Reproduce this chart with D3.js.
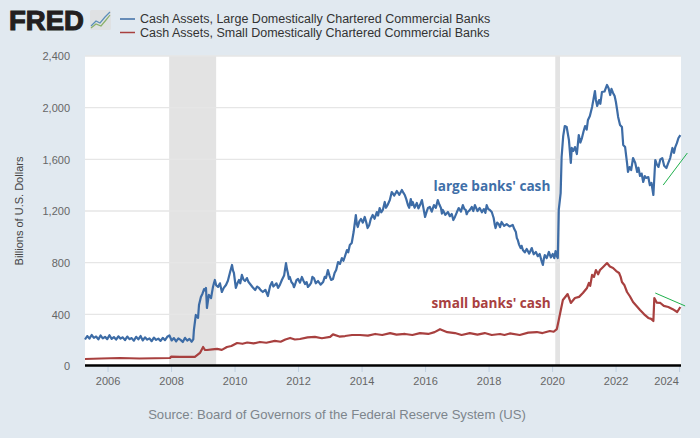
<!DOCTYPE html>
<html><head><meta charset="utf-8">
<script src="https://cdn.jsdelivr.net/npm/d3@7"></script>
<style>html,body{margin:0;padding:0;background:#e1e9f0}svg{display:block}text{font-family:"Liberation Sans",Arial,sans-serif}</style>
</head><body><div id="chart"></div>
<script>
const largeYears=[2005.29,2005.36,2005.43,2005.50,2005.57,2005.64,2005.71,2005.78,2005.85,2005.92,2005.99,2006.06,2006.13,2006.20,2006.27,2006.34,2006.41,2006.48,2006.55,2006.62,2006.69,2006.76,2006.83,2006.90,2006.97,2007.04,2007.11,2007.18,2007.25,2007.32,2007.39,2007.46,2007.53,2007.60,2007.67,2007.74,2007.81,2007.88,2007.95,2008.02,2008.09,2008.16,2008.23,2008.30,2008.37,2008.44,2008.51,2008.58,2008.65,2008.70,
2008.72,2008.78,2008.85,2008.88,2008.94,2008.99,2009.04,2009.07,2009.10,2009.13,2009.16,2009.19,2009.26,2009.29,2009.32,2009.35,2009.38,2009.42,2009.48,2009.54,2009.60,2009.66,2009.73,2009.79,2009.86,2009.92,2009.95,2009.98,2010.04,2010.09,2010.14,2010.18,2010.23,2010.28,2010.33,
2010.39,2010.44,2010.49,2010.57,2010.65,2010.71,2010.77,2010.83,2010.89,2010.97,2011.05,2011.12,2011.18,2011.22,2011.27,2011.32,2011.37,2011.43,2011.49,2011.56,2011.62,2011.65,2011.68,2011.71,2011.74,2011.79,2011.84,2011.87,2011.90,2011.95,2012.00,2012.06,2012.12,2012.17,2012.22,2012.27,2012.31,2012.36,2012.41,2012.45,2012.50,2012.56,2012.63,2012.71,2012.79,2012.84,2012.88,2012.94,2012.99,2013.04,2013.10,2013.15,2013.20,2013.26,2013.32,2013.38,2013.43,2013.47,2013.54,2013.58,2013.63,2013.69,2013.75,2013.82,2013.85,2013.88,2013.93,2013.98,2014.04,2014.10,2014.15,2014.19,2014.24,2014.29,2014.35,2014.41,2014.48,2014.52,2014.57,2014.62,2014.67,2014.73,2014.77,2014.82,2014.89,2014.95,2015.03,2015.11,2015.19,2015.27,2015.32,2015.36,2015.41,2015.46,2015.50,2015.55,2015.58,2015.61,2015.67,2015.74,2015.79,2015.84,2015.90,2015.95,2016.00,2016.05,2016.09,2016.15,2016.21,2016.28,2016.34,2016.40,2016.45,2016.50,2016.53,2016.56,2016.64,2016.72,2016.78,2016.84,2016.89,2016.94,2017.00,2017.06,2017.13,2017.19,2017.24,2017.28,2017.31,2017.34,2017.40,2017.47,2017.52,2017.57,2017.65,2017.72,2017.79,2017.85,2017.90,2017.94,2017.99,2018.04,2018.10,2018.16,2018.19,2018.22,2018.27,2018.32,2018.36,2018.41,2018.49,2018.57,2018.66,2018.76,2018.81,2018.86,2018.89,2018.92,2018.96,2019.01,2019.04,2019.08,2019.14,2019.20,2019.28,2019.36,2019.42,2019.49,2019.55,2019.61,2019.66,2019.71,2019.74,2019.77,2019.83,2019.90,2019.96,2020.02,2020.07,2020.11,2020.15,2020.18,2020.21,2020.27,2020.30,
2020.35,2020.40,2020.46,2020.53,2020.59,2020.62,2020.67,2020.72,2020.78,2020.84,2020.89,2020.94,2020.99,2021.04,2021.09,2021.13,2021.19,2021.26,2021.30,2021.35,2021.38,2021.42,2021.48,2021.52,2021.57,2021.65,2021.73,2021.78,2021.83,2021.87,2021.92,2021.97,2022.01,2022.05,2022.08,2022.14,2022.20,2022.24,2022.30,2022.36,2022.39,2022.44,2022.49,2022.55,2022.62,2022.68,2022.72,2022.77,2022.82,2022.87,2022.92,2022.96,2023.03,2023.08,2023.13,2023.19,2023.25,2023.30,2023.35,2023.41,2023.47,2023.53,2023.60,2023.66,2023.72,2023.79,2023.84,2023.88,2023.93,2023.98,2024.04];
const largeValues=[205,232,212,240,218,228,206,236,214,226,208,238,210,224,204,230,212,222,200,228,208,216,196,226,206,232,198,222,204,214,192,220,202,212,194,218,200,226,236,198,216,190,214,202,186,218,196,210,188,206,
279,395,372,472,534,560,596,585,604,449,500,550,526,570,612,640,666,625,612,640,573,605,627,660,728,782,740,720,604,640,666,640,705,670,658,
681,650,635,610,588,615,604,585,573,590,542,619,650,615,627,640,604,630,666,700,797,750,720,675,689,650,635,610,627,665,674,645,689,660,635,650,612,625,643,690,681,640,658,630,650,690,681,743,700,666,674,720,743,805,790,836,815,844,898,880,937,952,1037,1169,1100,1076,1120,1138,1110,1154,1110,1068,1090,1138,1169,1140,1192,1165,1223,1190,1208,1270,1225,1246,1285,1347,1320,1355,1325,1363,1340,1324,1290,1246,1225,1293,1245,1270,1225,1262,1220,1246,1285,1220,1154,1195,1223,1231,1195,1246,1225,1285,1250,1223,1180,1208,1170,1192,1160,1177,1130,1154,1190,1223,1195,1246,1215,1208,1175,1192,1205,1231,1200,1246,1200,1223,1190,1215,1185,1246,1215,1208,1192,1146,1100,1068,1110,1099,1075,1115,1085,1099,1080,1092,1060,1037,990,975,940,913,930,898,880,906,870,913,865,883,850,867,820,782,830,859,835,883,840,867,835,890,850,836,1208,1339,1618,
1780,1858,1850,1750,1572,1688,1665,1695,1641,1788,1730,1765,1815,1858,1830,1905,1935,2005,2060,2129,2060,2013,2059,2030,2121,2125,2176,2150,2098,2145,2114,2090,2044,1980,1928,1866,1850,1711,1695,1572,1502,1540,1517,1610,1572,1502,1535,1471,1490,1425,1470,1456,1463,1400,1417,1324,1595,1560,1541,1600,1610,1550,1533,1572,1610,1688,1650,1695,1725,1765,1788];
const smallYears=[2005.29,2005.8,2006.39,2007,2007.5,2007.97,2008.0,2008.28,2008.75,2008.91,2009.01,2009.07,2009.13,2009.3,2009.45,2009.6,2009.76,2009.9,2010.08,2010.25,2010.4,2010.6,2010.8,2011.0,2011.27,2011.45,2011.6,2011.75,2011.9,2012.06,2012.3,2012.53,2012.75,2013.01,2013.1,2013.3,2013.48,2013.7,2013.95,2014.2,2014.43,2014.65,2014.9,2015.1,2015.37,2015.6,2015.84,2016.1,2016.3,2016.47,2016.7,2016.94,2017.15,2017.41,2017.65,2017.88,2018.1,2018.36,2018.5,2018.67,2018.98,2019.25,2019.52,2019.7,2019.93,2020.05,2020.15,2020.21,2020.34,2020.49,2020.59,2020.72,2020.85,2020.97,2021.10,2021.16,2021.2,2021.26,2021.32,2021.38,2021.45,2021.51,2021.6,2021.73,2021.82,2021.92,2022.02,2022.11,2022.16,2022.20,2022.28,2022.36,2022.45,2022.55,2022.66,2022.77,2022.9,2023.03,2023.12,2023.19,2023.22,2023.3,2023.41,2023.52,2023.66,2023.8,2023.94,2024.04];
const smallValues=[54,58,62,58,60,62,72,70,70,101,147,124,124,128,132,125,147,155,178,172,182,175,186,180,194,188,205,217,205,209,222,225,215,225,245,228,232,240,240,235,248,240,255,243,248,240,255,248,262,285,262,255,240,255,243,255,240,248,240,252,240,258,263,255,271,265,286,356,511,557,488,526,535,565,604,643,620,705,690,743,710,743,765,797,770,759,735,720,690,650,625,573,540,495,465,434,400,372,365,348,526,490,488,465,457,440,418,457];
const yTicks=[0,400,800,1200,1600,2000,2400];
const xTicks=[2006,2008,2010,2012,2014,2016,2018,2020,2022,2024];
const recessions=[[2007.94,2009.42],[2020.10,2020.25]];
const trendLarge=[[2023.50,1401],[2024.26,1649]];
const trendSmall=[[2023.25,565],[2024.19,465]];
const legendLabels=["Cash Assets, Large Domestically Chartered Commercial Banks","Cash Assets, Small Domestically Chartered Commercial Banks"];

const W=700,H=438,L=85,R=681,T=56,B=366;
const blue="#3d6ca6",red="#a8403f";
const x=d3.scaleLinear().domain([2005.29,2024.06]).range([L,R]);
const y=d3.scaleLinear().domain([0,2400]).range([B,T]);
const svg=d3.select("#chart").append("svg").attr("width",W).attr("height",H);
svg.append("rect").attr("width",W).attr("height",H).attr("fill","#e1e9f0");
svg.append("rect").attr("x",L).attr("y",T).attr("width",R-L).attr("height",B-T).attr("fill","#fff");
svg.selectAll(".rec").data(recessions).join("rect").attr("x",d=>x(d[0])).attr("y",T).attr("width",d=>x(d[1])-x(d[0])).attr("height",B-T).attr("fill","#e3e3e3");
svg.selectAll(".grid").data(yTicks.slice(1)).join("line").attr("x1",L).attr("x2",R).attr("y1",d=>y(d)).attr("y2",d=>y(d)).attr("stroke","#e6e6e6").attr("stroke-width",1.3);
const yAxis=svg.append("g").attr("transform",`translate(${L},0)`).call(d3.axisLeft(y).tickValues(yTicks).tickFormat(d3.format(",")).tickSize(0).tickPadding(15));
yAxis.select(".domain").remove();
yAxis.selectAll("text").attr("fill","#666").style("font-size","11px").attr("dy","0.35em");
const xAxis=svg.append("g").attr("transform",`translate(0,${B})`).call(d3.axisBottom(x).tickValues(xTicks).tickFormat(d3.format("d")).tickSize(6).tickPadding(5));
xAxis.select(".domain").remove();
xAxis.selectAll("line").attr("stroke","#c0d0e0");
xAxis.selectAll("text").attr("fill","#666").style("font-size","11px");
xAxis.selectAll("text").filter(d=>d===2024).attr("dx",-13);
svg.append("line").attr("x1",L).attr("x2",R).attr("y1",B-0.5).attr("y2",B-0.5).attr("stroke","#000").attr("stroke-width",2.5);
const line=d3.line().x(d=>x(d[0])).y(d=>y(d[1]));
svg.append("path").datum(d3.zip(smallYears,smallValues)).attr("d",line).attr("fill","none").attr("stroke",red).attr("stroke-width",2.2).attr("stroke-linejoin","round");
svg.append("path").datum(d3.zip(largeYears,largeValues)).attr("d",line).attr("fill","none").attr("stroke",blue).attr("stroke-width",2.2).attr("stroke-linejoin","round");
[trendLarge,trendSmall].forEach(t=>svg.append("path").datum(t).attr("d",line).attr("fill","none").attr("stroke","#1fb04c").attr("stroke-width",1));
svg.append("text").attr("x",x(2014.0)+72).attr("y",y(1355)).attr("fill","#3f6fa8").attr("font-weight","bold").style("font-family","'Open Sans',sans-serif").style("font-size","13.6px").text("large banks' cash");
svg.append("text").attr("x",x(2014.0)+70).attr("y",y(452)).attr("fill","#a8403f").attr("font-weight","bold").style("font-family","'Open Sans',sans-serif").style("font-size","13.6px").text("small banks' cash");
svg.append("text").attr("transform","translate(23,211) rotate(-90)").attr("text-anchor","middle").attr("fill","#444").style("font-size","11px").text("Billions of U.S. Dollars");
svg.append("text").attr("x",337).attr("y",419).attr("text-anchor","middle").attr("fill","#7d858c").style("font-size","13.1px").text("Source: Board of Governors of the Federal Reserve System (US)");
svg.append("text").attr("x",9).attr("y",30).attr("fill","#231f20").attr("stroke","#231f20").attr("stroke-width",1.1).attr("font-weight","bold").style("font-size","27.5px").text("FRED");
const ic=svg.append("g");
ic.append("rect").attr("x",90).attr("y",10).attr("width",21).attr("height",20).attr("rx",1.5).attr("fill","#dfe1e3");
const logoLine=d3.line();
ic.append("path").attr("d",logoLine([[91,26],[96,21],[100,23],[105,17],[110,12]])).attr("fill","none").attr("stroke","#5b8db8").attr("stroke-width",1.2);
ic.append("path").attr("d",logoLine([[91,28],[96,24],[101,26],[106,20],[110,15]])).attr("fill","none").attr("stroke","#8ab06a").attr("stroke-width",1.2);
legendLabels.forEach((t,i)=>{
  const ly=[19,32.5][i];
  svg.append("line").attr("x1",120).attr("x2",135).attr("y1",ly).attr("y2",ly).attr("stroke",[blue,red][i]).attr("stroke-width",1.5);
  svg.append("text").attr("x",140).attr("y",ly+4).attr("fill","#333").style("font-size","12.5px").text(t);
});
</script></body></html>
